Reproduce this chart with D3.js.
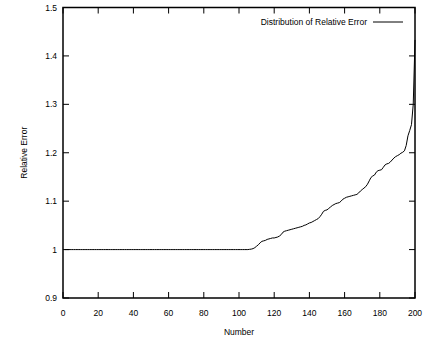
<!DOCTYPE html>
<html>
<head>
<meta charset="utf-8">
<script src="https://cdn.jsdelivr.net/npm/d3@7"></script>
<style>
html,body{margin:0;padding:0;background:#fff;}
svg{display:block;}
text{font-family:"Liberation Sans",Arial,Helvetica,sans-serif;font-size:8.5px;fill:#000;}
</style>
</head>
<body>
<svg id="chart" width="429" height="338"></svg>
<script>
// Data: relative error for sample number 1..200 (sorted)
const relativeError = [
  1,1,1,1,1,1,1,1,1,1, 1,1,1,1,1,1,1,1,1,1,
  1,1,1,1,1,1,1,1,1,1, 1,1,1,1,1,1,1,1,1,1,
  1,1,1,1,1,1,1,1,1,1, 1,1,1,1,1,1,1,1,1,1,
  1,1,1,1,1,1,1,1,1,1, 1,1,1,1,1,1,1,1,1,1,
  1,1,1,1,1,1,1,1,1,1, 1,1,1,1,1,1,1,1,1,1,
  1,1,1,1,1,1.0005,1.001,1.002,1.004,1.007,
  1.010,1.014,1.017,1.018,1.019,1.021,1.022,1.023,1.024,1.024,
  1.025,1.026,1.028,1.031,1.036,1.038,1.039,1.040,1.041,1.042,
  1.043,1.044,1.045,1.046,1.047,1.048,1.050,1.051,1.053,1.055,
  1.056,1.058,1.060,1.062,1.064,1.068,1.073,1.079,1.081,1.082,
  1.085,1.088,1.091,1.093,1.095,1.096,1.097,1.100,1.104,1.106,
  1.108,1.109,1.110,1.111,1.112,1.113,1.114,1.117,1.121,1.124,
  1.127,1.130,1.135,1.142,1.149,1.152,1.154,1.160,1.163,1.164,
  1.165,1.170,1.175,1.177,1.178,1.181,1.185,1.189,1.192,1.194,
  1.196,1.199,1.201,1.204,1.215,1.235,1.246,1.258,1.300,1.433
];
const sampleNumber = relativeError.map((_, i) => i + 1);
const xTicks = [0, 20, 40, 60, 80, 100, 120, 140, 160, 180, 200];
const yTicks = [0.9, 1.0, 1.1, 1.2, 1.3, 1.4, 1.5];
const yTickLabels = ["0.9", "1", "1.1", "1.2", "1.3", "1.4", "1.5"];
const seriesName = "Distribution of Relative Error";
const xTitle = "Number";
const yTitle = "Relative Error";

const L = 63, R = 415, T = 7.5, B = 298;
const svg = d3.select("#chart");
const x = d3.scaleLinear().domain([0, 200]).range([L, R]);
const y = d3.scaleLinear().domain([0.9, 1.5]).range([B, T]);

// ticks (inward, mirrored)
const tl = 6;
const g = svg.append("g").attr("stroke", "#000").attr("stroke-width", 1);
xTicks.forEach(v => {
  g.append("line").attr("x1", x(v)).attr("x2", x(v)).attr("y1", B).attr("y2", B - tl);
  g.append("line").attr("x1", x(v)).attr("x2", x(v)).attr("y1", T).attr("y2", T + tl);
});
yTicks.forEach(v => {
  g.append("line").attr("x1", L).attr("x2", L + tl).attr("y1", y(v)).attr("y2", y(v));
  g.append("line").attr("x1", R).attr("x2", R - tl).attr("y1", y(v)).attr("y2", y(v));
});

// tick labels
svg.append("g").selectAll("text").data(xTicks).join("text")
  .attr("x", d => x(d)).attr("y", 316).attr("text-anchor", "middle").text(d => d);
svg.append("g").selectAll("text").data(yTicks).join("text")
  .attr("x", 57).attr("y", d => y(d) + 3).attr("text-anchor", "end")
  .text((d, i) => yTickLabels[i]);

// axis titles
svg.append("text").attr("x", (L + R) / 2).attr("y", 334.5).attr("text-anchor", "middle").text(xTitle);
svg.append("text").attr("transform", `translate(27,${(T + B) / 2}) rotate(-90)`)
  .attr("text-anchor", "middle").text(yTitle);

// data line
const line = d3.line().x((d, i) => x(sampleNumber[i])).y(d => y(d));
svg.append("path").datum(relativeError).attr("d", line)
  .attr("fill", "none").attr("stroke", "#000").attr("stroke-width", 1);

// legend
svg.append("text").attr("x", 367).attr("y", 25).attr("text-anchor", "end").text(seriesName);
svg.append("line").attr("x1", 373).attr("x2", 403).attr("y1", 22).attr("y2", 22)
  .attr("stroke", "#000").attr("stroke-width", 1);

// border
svg.append("rect").attr("x", L).attr("y", T).attr("width", R - L).attr("height", B - T)
  .attr("fill", "none").attr("stroke", "#000").attr("stroke-width", 1.5);
</script>
</body>
</html>
